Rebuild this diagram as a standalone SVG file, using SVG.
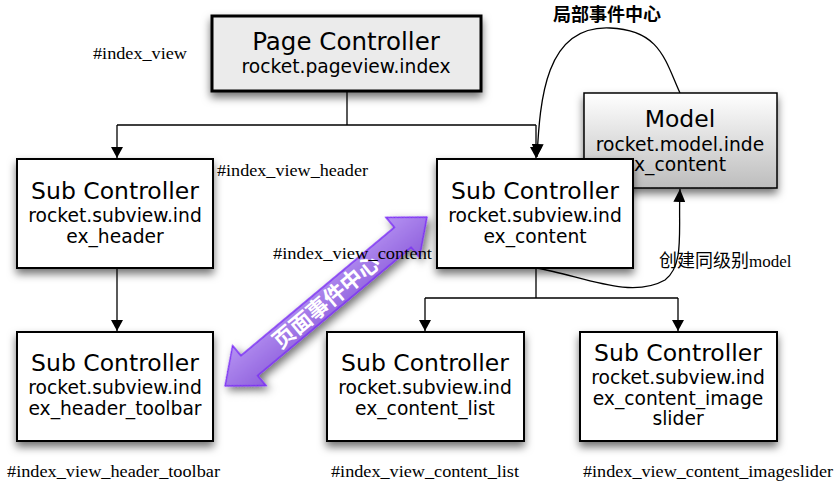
<svg xmlns="http://www.w3.org/2000/svg" width="837" height="486" viewBox="0 0 837 486">
<defs>
<style>
.box{fill:#fff;stroke:#000;stroke-width:2;filter:url(#sh)}
.t1{font-family:"DejaVu Sans",Verdana,sans-serif;font-size:23.5px;text-anchor:middle;fill:#000}
.t2{font-family:"DejaVu Sans",Verdana,sans-serif;font-size:18.7px;text-anchor:middle;fill:#000}
.lbl{font-family:"Liberation Serif","Times New Roman",serif;font-size:16px;fill:#000}
.cjk{font-family:"Liberation Sans","Noto Sans CJK SC",sans-serif;font-size:18px;fill:#000}
.con{fill:none;stroke:#000;stroke-width:1.3}
</style>
<filter id="sh" x="-20%" y="-20%" width="140%" height="150%">
<feDropShadow dx="0" dy="5" stdDeviation="4" flood-color="#000" flood-opacity="0.55"/>
</filter>
<linearGradient id="mg" x1="0" y1="0" x2="0" y2="1">
<stop offset="0" stop-color="#ffffff"/>
<stop offset="1" stop-color="#bdbdbd"/>
</linearGradient>
<linearGradient id="pg" x1="0" y1="0" x2="0" y2="1">
<stop offset="0" stop-color="#b592f2"/>
<stop offset="1" stop-color="#8e5fdc"/>
</linearGradient>
<marker id="ah" markerWidth="11" markerHeight="12" refX="11" refY="6" orient="auto" markerUnits="userSpaceOnUse">
<path d="M0,0 L11,6 L0,12 z" fill="#000"/>
</marker>
<marker id="ah2" markerWidth="13" markerHeight="12" refX="13" refY="6" orient="auto" markerUnits="userSpaceOnUse">
<path d="M0,0 L13,6 L0,12 z" fill="#000"/>
</marker>
</defs>
<rect width="837" height="486" fill="#fff"/>

<g id="connectors">
<path class="con" d="M347,91 V125 M117,125 H536"/>
<path class="con" d="M117,125 V158" marker-end="url(#ah)"/>
<path class="con" d="M536,125 V158" marker-end="url(#ah)"/>
<path class="con" d="M117,268 V331" marker-end="url(#ah)"/>
<path class="con" d="M536,268 V298 M425,298 H678"/>
<path class="con" d="M425,298 V331" marker-end="url(#ah)"/>
<path class="con" d="M678,298 V331" marker-end="url(#ah)"/>
<path class="con" d="M680,93 C665,60 660,30 610,28 C545,25 540,100 537,157" marker-end="url(#ah2)"/>
<path class="con" d="M536,268 C580,275 630,300 665,280 C685,265 678,230 680,189" marker-end="url(#ah2)"/>
</g>

<g id="page_controller">
<rect x="212" y="16" width="269" height="75" fill="#ebebeb" stroke="#000" stroke-width="3" filter="url(#sh)"/>
<text class="t1" x="346" y="49.5" style="font-size:24.5px">Page Controller</text>
<text class="t2" x="346" y="73">rocket.pageview.index</text>
</g>

<g id="model">
<rect x="584" y="93" width="193" height="95" fill="url(#mg)" stroke="#000" stroke-width="1.5" filter="url(#sh)"/>
<text class="t1" x="680" y="127">Model</text>
<text class="t2" x="680" y="150.5">rocket.model.inde</text>
<text class="t2" x="680" y="171">x_content</text>
</g>

<g id="sub_header">
<rect class="box" x="17" y="159" width="196" height="109"/>
<text class="t1" x="115" y="199">Sub Controller</text>
<text class="t2" x="115" y="222">rocket.subview.ind</text>
<text class="t2" x="115" y="242.5">ex_header</text>
</g>

<g id="sub_content">
<rect class="box" x="437" y="159" width="196" height="109"/>
<text class="t1" x="535" y="199">Sub Controller</text>
<text class="t2" x="535" y="222">rocket.subview.ind</text>
<text class="t2" x="535" y="242.5">ex_content</text>
</g>

<g id="sub_toolbar">
<rect class="box" x="17" y="332" width="196" height="109"/>
<text class="t1" x="115" y="371">Sub Controller</text>
<text class="t2" x="115" y="394">rocket.subview.ind</text>
<text class="t2" x="115" y="414.5">ex_header_toolbar</text>
</g>

<g id="sub_list">
<rect class="box" x="327" y="332" width="197" height="109"/>
<text class="t1" x="425" y="371">Sub Controller</text>
<text class="t2" x="425" y="394">rocket.subview.ind</text>
<text class="t2" x="425" y="414.5">ex_content_list</text>
</g>

<g id="sub_slider">
<rect class="box" x="580" y="332" width="197" height="109"/>
<text class="t1" x="678" y="361">Sub Controller</text>
<text class="t2" x="678" y="384">rocket.subview.ind</text>
<text class="t2" x="678" y="404.5">ex_content_image</text>
<text class="t2" x="678" y="425">slider</text>
</g>

<g id="page_event_arrow" transform="translate(326,301.5) rotate(-39.9)">
<polygon points="-131.5,0 -100,-26 -100,-13 100,-13 100,-26 131.5,0 100,26 100,13 -100,13 -100,26" fill="url(#pg)" stroke="#7b2cf5" stroke-width="1.5" filter="url(#sh)"/>
<text x="0" y="8" font-family="'Noto Sans CJK SC',sans-serif" font-size="22" font-weight="bold" fill="#fff" text-anchor="middle">页面事件中心</text>
</g>

<g id="labels">
<text class="lbl" x="93" y="59" textLength="94" lengthAdjust="spacingAndGlyphs">#index_view</text>
<text class="lbl" x="217" y="176" textLength="151" lengthAdjust="spacingAndGlyphs">#index_view_header</text>
<text class="lbl" x="273" y="259" textLength="159" lengthAdjust="spacingAndGlyphs">#index_view_content</text>
<text class="lbl" x="7" y="477" textLength="213" lengthAdjust="spacingAndGlyphs">#index_view_header_toolbar</text>
<text class="lbl" x="331" y="477" textLength="188" lengthAdjust="spacingAndGlyphs">#index_view_content_list</text>
<text class="lbl" x="583" y="477" textLength="250" lengthAdjust="spacingAndGlyphs">#index_view_content_imageslider</text>
<text class="cjk" x="553" y="21" font-weight="bold">局部事件中心</text>
<text class="cjk" x="659" y="267">创建同级别<tspan font-family="'Liberation Serif',serif" font-size="17">model</tspan></text>
</g>
</svg>
